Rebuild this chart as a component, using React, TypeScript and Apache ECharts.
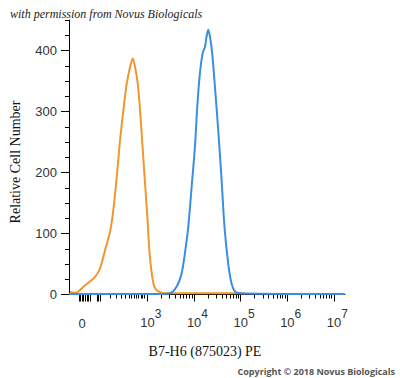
import React, { useEffect, useRef } from "react";
import * as echarts from "echarts";

// x positions are in display "decades" of the biexponential axis (3 = 10^3, 4 = 10^4, ...)
const orangeX = [1.34, 1.45, 1.52, 1.666, 1.88, 1.987, 2.094, 2.201, 2.27, 2.345, 2.415, 2.486, 2.559, 2.63, 2.687, 2.737, 2.794, 2.844, 2.893, 2.951, 3.0, 3.043, 3.094, 3.15, 3.236, 3.38, 4.0, 5.09];
const orangeY = [4, 3, 5, 15, 29, 43, 73, 103, 138, 193, 253, 302, 346, 373, 387, 373, 346, 302, 248, 182, 128, 73, 35, 13, 5, 2, 2, 2];

const blueX = [1.32, 2.5, 3.336, 3.486, 3.63, 3.737, 3.807, 3.878, 3.951, 4.021, 4.071, 4.128, 4.186, 4.236, 4.272, 4.306, 4.343, 4.392, 4.45, 4.52, 4.593, 4.655, 4.734, 4.807, 4.878, 4.985, 6.0, 7.23];
const blueY = [1, 1, 1, 2, 13, 35, 68, 111, 177, 242, 308, 363, 395, 406, 423, 434, 423, 395, 341, 270, 188, 111, 51, 18, 5, 2, 1, 1];

const xLabelValues = [1.6, 3, 4, 5, 6, 7];
const xLabelExponents = ["", "3", "4", "5", "6", "7"];
const xMajorTicks = [1.5375, 1.57, 1.602, 1.634, 1.666, 1.709, 1.741, 1.784, 1.923, 1.955, 1.998, 3, 4, 5, 6, 7];
const xLowMinorTicks = [2.208, 2.33, 2.437, 2.522, 2.602, 2.657, 2.722, 2.773, 2.816, 2.865, 2.901, 2.94];
const logMinorFactors = [2, 3, 4, 5, 6, 7, 8, 9];
const logDecades = [3, 4, 5, 6];

const yMax = 450;
const yLabelValues = [0, 100, 200, 300, 400];
const yMinorStep = 25;

export default function App() {
  const ref = useRef<HTMLDivElement>(null);
  useEffect(() => {
    if (!ref.current) return;
    const chart = echarts.init(ref.current, null, { renderer: "svg" });
    const minorTicks: number[] = [...xLowMinorTicks];
    logDecades.forEach((d) => logMinorFactors.forEach((k) => minorTicks.push(d + Math.log10(k))));
    const xMin = 1.32;
    const xMax = 7.24;
    const labelFont = "Liberation Sans, Arial, sans-serif";
    const serif = "Liberation Serif, Times New Roman, serif";
    chart.setOption({
      animation: false,
      backgroundColor: "#ffffff",
      grid: { left: 69, right: 55, top: 20, bottom: 83.5 },
      xAxis: [
        {
          type: "value",
          min: xMin,
          max: xMax,
          splitLine: { show: false },
          axisLine: { show: true, lineStyle: { color: "#000", width: 1 } },
          axisTick: { show: true, customValues: xMajorTicks, length: 7, lineStyle: { color: "#000", width: 1 } },
          axisLabel: {
            show: true,
            customValues: xLabelValues,
            margin: 13,
            color: "#333",
            fontFamily: labelFont,
            fontSize: 13,
            formatter: (v: number) => {
              const i = xLabelValues.findIndex((x) => Math.abs(x - v) < 1e-6);
              const e = i >= 0 ? xLabelExponents[i] : "";
              if (!e) return "{z|0}";
              return "{b|10}{s|" + e + "}";
            },
            rich: {
              z: { fontSize: 13, color: "#333", fontFamily: labelFont, padding: [9, 0, 9, 0] },
              b: { fontSize: 13, color: "#333", fontFamily: labelFont, padding: [0, 0, 0, 7] },
              s: { fontSize: 12, color: "#333", fontFamily: labelFont, padding: [0, 0, 18, 0] },
            },
          },
        },
        {
          type: "value",
          min: xMin,
          max: xMax,
          position: "bottom",
          splitLine: { show: false },
          axisLine: { show: false },
          axisLabel: { show: false },
          axisTick: { show: true, customValues: minorTicks, length: 4, lineStyle: { color: "#000", width: 1 } },
        },
      ],
      yAxis: [
        {
          type: "value",
          min: 0,
          max: yMax,
          splitLine: { show: false },
          axisLine: { show: true, lineStyle: { color: "#000", width: 1 } },
          axisTick: { show: true, customValues: yLabelValues, length: 8, lineStyle: { color: "#000" } },
          axisLabel: { customValues: yLabelValues, margin: 12, color: "#333", fontFamily: labelFont, fontSize: 13 },
        },
        {
          type: "value",
          min: 0,
          max: yMax,
          interval: yMinorStep,
          position: "left",
          splitLine: { show: false },
          axisLine: { show: false },
          axisTick: { show: true, length: 4, lineStyle: { color: "#000" } },
          axisLabel: { show: false },
        },
      ],
      series: [
        {
          type: "line",
          data: orangeX.map((x, i) => [x, orangeY[i]]),
          smooth: 0.3,
          symbol: "none",
          lineStyle: { color: "#F0962E", width: 2 },
          z: 3,
        },
        {
          type: "line",
          data: blueX.map((x, i) => [x, blueY[i]]),
          smooth: 0.3,
          symbol: "none",
          lineStyle: { color: "#3A8FE0", width: 2 },
          z: 4,
        },
      ],
      graphic: [
        {
          type: "text",
          left: 10,
          top: 8,
          style: { text: "with permission from Novus Biologicals", font: "italic 12px " + serif, fill: "#222" },
        },
        {
          type: "text",
          x: 15,
          y: 162,
          rotation: Math.PI / 2,
          style: { text: "Relative Cell Number", font: "14px " + serif, fill: "#111", align: "center", verticalAlign: "middle" },
        },
        {
          type: "text",
          x: 205,
          y: 351,
          style: { text: "B7-H6 (875023) PE", font: "14px " + serif, fill: "#111", align: "center", verticalAlign: "middle" },
        },
        {
          type: "text",
          x: 395,
          y: 371,
          style: { text: "Copyright \u00A9 2018 Novus Biologicals", font: "bold 9px 'Open Sans', sans-serif", fill: "#555", align: "right", verticalAlign: "middle" },
        },
      ],
    });
    return () => chart.dispose();
  }, []);
  return <div ref={ref} style={{ position: "fixed", left: 0, top: 0, width: 400, height: 378, background: "#fff" }} />;
}
